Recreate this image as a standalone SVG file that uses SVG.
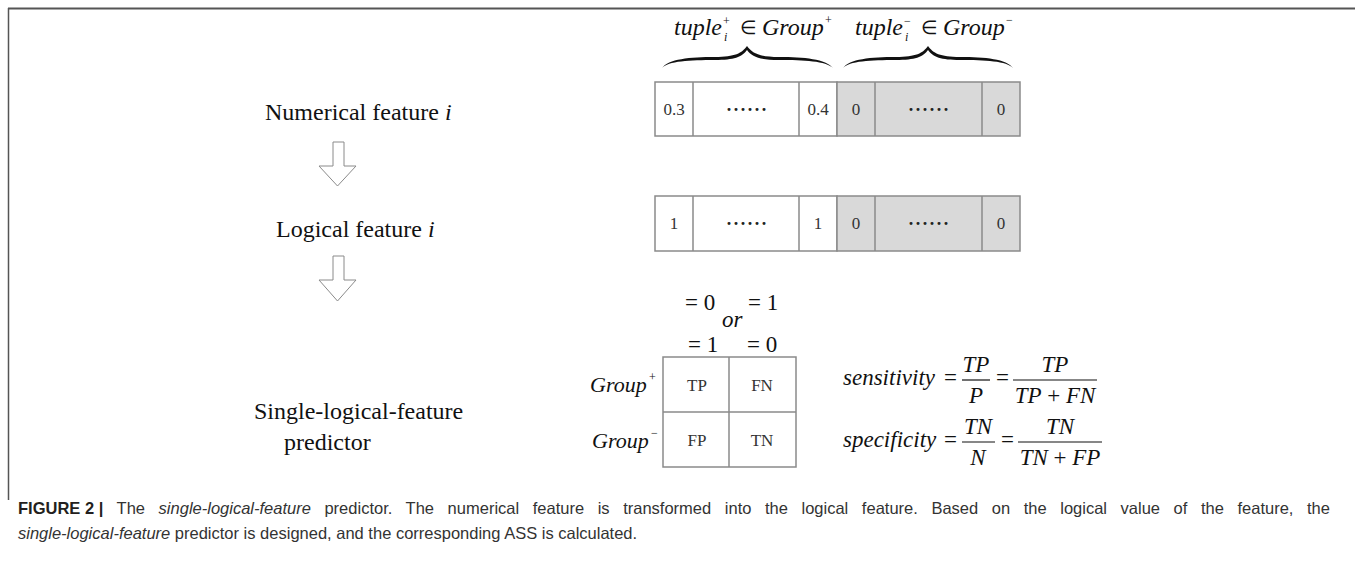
<svg xmlns="http://www.w3.org/2000/svg" width="1355" height="562" viewBox="0 0 1355 562">
<style>
.serif{font-family:"Liberation Serif","Times New Roman",serif;fill:#111}
.it{font-style:italic}
.lbl{font-size:24px}
.cell{stroke:#8a8a8a;stroke-width:1.5}
.num{font-family:"Liberation Serif",serif;font-size:17px;fill:#333;text-anchor:middle}
.dots{font-family:"Liberation Serif",serif;font-size:18px;font-weight:bold;fill:#222;text-anchor:middle;letter-spacing:1px}
.arrow{fill:#fff;stroke:#8a8a8a;stroke-width:1}
.math{font-family:"Liberation Serif",serif;font-size:23px;fill:#111}
.cap{font-family:"Liberation Sans",Arial,sans-serif;font-size:16.5px;fill:#333}
</style>
<rect width="1355" height="562" fill="#fff"/>
<g id="frame">
<line x1="8" y1="8.5" x2="1355" y2="8.5" stroke="#555" stroke-width="2"/>
<line x1="8.5" y1="8" x2="8.5" y2="500" stroke="#555" stroke-width="1.5"/>
</g>

<g id="label-numerical"><text class="serif lbl" x="265" y="120">Numerical feature <tspan class="it">i</tspan></text></g>
<g id="label-logical"><text class="serif lbl" x="276" y="237">Logical feature <tspan class="it">i</tspan></text></g>
<g id="label-predictor"><text class="serif lbl" x="254" y="419">Single-logical-feature</text><text class="serif lbl" x="284" y="450">predictor</text></g>

<g id="connectors">
<polygon class="arrow" points="333,142 344,142 344,166 356,166 337.5,186 319,166 333,166"/>
<polygon class="arrow" points="333,256 344,256 344,280 356,280 337.5,301 319,280 333,280"/>
</g>

<g id="braces">
<path fill="#111" d="M662,68 C668,59 690,57 715,57 C735,57 742,53 747,46 C752,53 759,57 779,57 C804,57 826,59 833,68 C826,61 804,60 779,60 C760,60 752,57 747,50 C742,57 734,60 715,60 C690,60 668,61 662,68 Z"/>
<path fill="#111" d="M843,68 C849,59 871,57 896,57 C916,57 923,53 928,46 C933,53 940,57 960,57 C985,57 1007,59 1013,68 C1007,61 985,60 960,60 C941,60 933,57 928,50 C923,57 915,60 896,60 C871,60 849,61 843,68 Z"/>
</g>
<g id="label-group-pos">
<text class="serif it" font-size="24" x="674" y="35">tuple</text>
<text class="serif" font-size="12" x="723" y="25">+</text>
<text class="serif it" font-size="12" x="724" y="41">i</text>
<text class="serif" font-size="19" x="740" y="34">∈</text>
<text class="serif it" font-size="24" x="762" y="35">Group</text>
<text class="serif" font-size="12" x="825" y="24">+</text>
</g>
<g id="label-group-neg">
<text class="serif it" font-size="24" x="855" y="35">tuple</text>
<text class="serif" font-size="12" x="904" y="25">−</text>
<text class="serif it" font-size="12" x="905" y="41">i</text>
<text class="serif" font-size="19" x="921" y="34">∈</text>
<text class="serif it" font-size="24" x="943" y="35">Group</text>
<text class="serif" font-size="12" x="1006" y="24">−</text>
</g>

<g id="row-numerical">
<rect class="cell" x="655" y="82" width="182" height="54" fill="#fff"/>
<rect class="cell" x="837" y="82" width="183" height="54" fill="#d9d9d9"/>
<line class="cell" x1="693" y1="82" x2="693" y2="136"/>
<line class="cell" x1="799" y1="82" x2="799" y2="136"/>
<line class="cell" x1="875" y1="82" x2="875" y2="136"/>
<line class="cell" x1="982" y1="82" x2="982" y2="136"/>
<text class="num" font-size="16" x="674" y="115">0.3</text>
<text class="dots" x="747" y="116">······</text>
<text class="num" font-size="16" x="818" y="115">0.4</text>
<text class="num" x="856" y="115">0</text>
<text class="dots" x="929" y="116">······</text>
<text class="num" x="1001" y="115">0</text>
</g>
<g id="row-logical">
<rect class="cell" x="655" y="196" width="182" height="55" fill="#fff"/>
<rect class="cell" x="837" y="196" width="183" height="55" fill="#d9d9d9"/>
<line class="cell" x1="693" y1="196" x2="693" y2="251"/>
<line class="cell" x1="799" y1="196" x2="799" y2="251"/>
<line class="cell" x1="875" y1="196" x2="875" y2="251"/>
<line class="cell" x1="982" y1="196" x2="982" y2="251"/>
<text class="num" x="674" y="229">1</text>
<text class="dots" x="747" y="230">······</text>
<text class="num" x="818" y="229">1</text>
<text class="num" x="856" y="229">0</text>
<text class="dots" x="929" y="230">······</text>
<text class="num" x="1001" y="229">0</text>
</g>

<g id="conditions">
<text class="math" x="685" y="310">= 0</text>
<text class="math it" x="722" y="327">or</text>
<text class="math" x="748" y="310">= 1</text>
<text class="math" x="688" y="352">= 1</text>
<text class="math" x="747" y="352">= 0</text>
</g>

<g id="confusion-matrix">
<rect class="cell" x="663" y="357" width="133" height="110" fill="#fff"/>
<line class="cell" x1="729" y1="357" x2="729" y2="467"/>
<line class="cell" x1="663" y1="412" x2="796" y2="412"/>
<text class="num" font-size="18" x="697" y="391">TP</text>
<text class="num" font-size="18" x="762" y="391">FN</text>
<text class="num" font-size="18" x="697" y="446">FP</text>
<text class="num" font-size="18" x="762" y="446">TN</text>
<text class="serif it" font-size="22" x="590" y="392">Group</text>
<text class="serif" font-size="12" x="649" y="381">+</text>
<text class="serif it" font-size="22" x="592" y="448">Group</text>
<text class="serif" font-size="12" x="651" y="437">−</text>
</g>

<g id="formula-sensitivity">
<text class="math it" x="843" y="385">sensitivity</text>
<text class="math" x="944" y="385">=</text>
<text class="math it" x="976" y="372" text-anchor="middle">TP</text>
<line x1="962" y1="380" x2="990" y2="380" stroke="#111" stroke-width="1.2"/>
<text class="math it" x="976" y="403" text-anchor="middle">P</text>
<text class="math" x="996" y="385">=</text>
<text class="math it" x="1055" y="372" text-anchor="middle">TP</text>
<line x1="1013" y1="380" x2="1097" y2="380" stroke="#111" stroke-width="1.2"/>
<text class="math" x="1055" y="403" text-anchor="middle"><tspan class="it">TP</tspan> + <tspan class="it">FN</tspan></text>
</g>
<g id="formula-specificity">
<text class="math it" x="843" y="447">specificity</text>
<text class="math" x="944" y="447">=</text>
<text class="math it" x="978" y="434" text-anchor="middle">TN</text>
<line x1="962" y1="442" x2="995" y2="442" stroke="#111" stroke-width="1.2"/>
<text class="math it" x="978" y="465" text-anchor="middle">N</text>
<text class="math" x="1001" y="447">=</text>
<text class="math it" x="1060" y="434" text-anchor="middle">TN</text>
<line x1="1018" y1="442" x2="1102" y2="442" stroke="#111" stroke-width="1.2"/>
<text class="math" x="1060" y="465" text-anchor="middle"><tspan class="it">TN</tspan> + <tspan class="it">FP</tspan></text>
</g>

<g id="caption">
<text class="cap" x="18" y="514" word-spacing="9"><tspan font-weight="bold" fill="#231f20" word-spacing="0">FIGURE 2 |</tspan> The <tspan font-style="italic">single-logical-feature</tspan> predictor. The numerical feature is transformed into the logical feature. Based on the logical value of the feature, the</text>
<text class="cap" x="18" y="539"><tspan font-style="italic">single-logical-feature</tspan> predictor is designed, and the corresponding ASS is calculated.</text>
</g>
</svg>
